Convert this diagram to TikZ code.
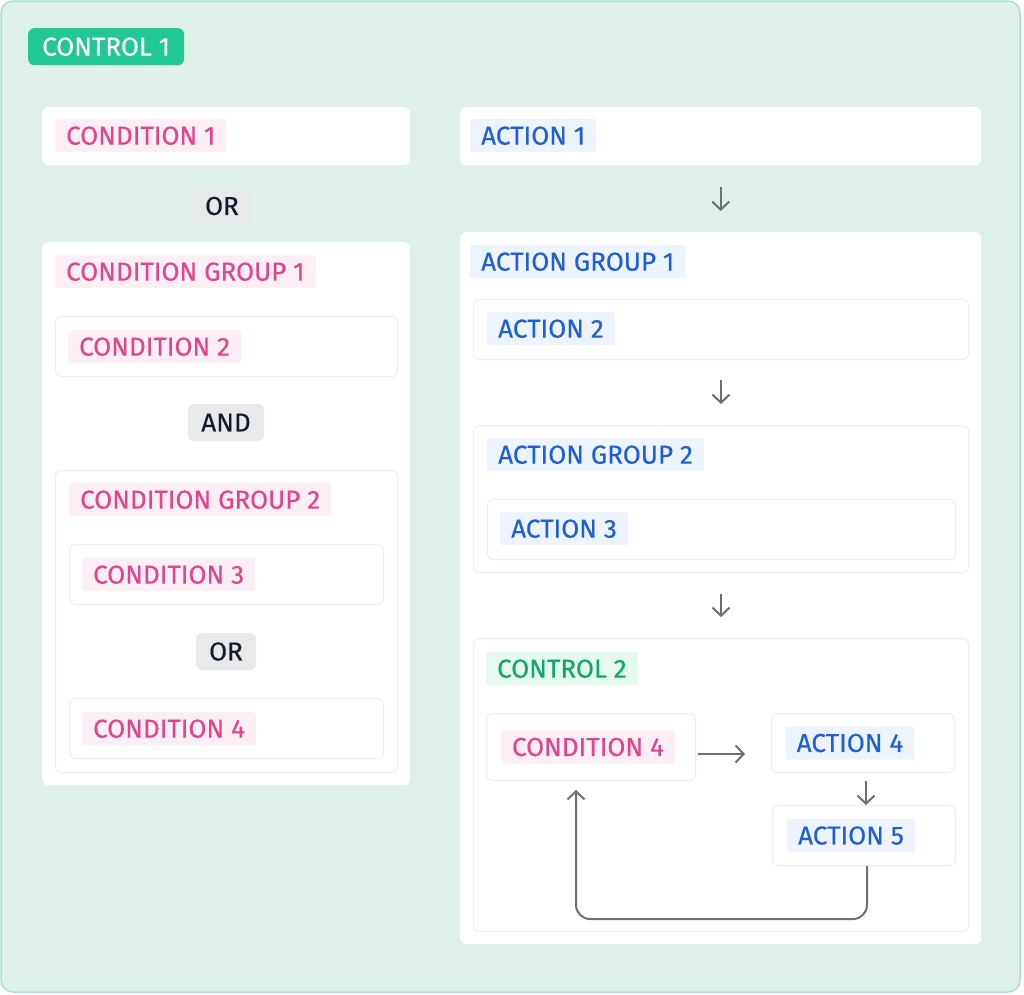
\documentclass[tikz,border=0pt]{standalone}
\usepackage{fontspec}
\setmainfont{Fira Sans}[FakeBold=0.35]
\usetikzlibrary{arrows.meta,positioning}
\definecolor{mintbg}{HTML}{DFF0E9}
\definecolor{mintline}{HTML}{A8E2CC}
\definecolor{ctlgreen}{HTML}{21C795}
\definecolor{pinktx}{HTML}{E2448C}
\definecolor{pinkbg}{HTML}{FDEFF5}
\definecolor{bluetx}{HTML}{1F5FD6}
\definecolor{bluebg}{HTML}{EDF4FD}
\definecolor{greentx}{HTML}{12A667}
\definecolor{greenbg}{HTML}{E6F9EF}
\definecolor{opbg}{HTML}{E8E9EB}
\definecolor{optx}{HTML}{161B2B}
\definecolor{cardline}{HTML}{ECEEF0}
\definecolor{arrgray}{HTML}{6C6F73}
\tikzset{
  panel/.style={fill=white, rounded corners=6pt, anchor=north west, inner sep=0pt},
  card/.style={panel, draw=cardline, line width=1pt},
  tagbox/.style={anchor=north west, inner xsep=11pt, inner ysep=0pt, minimum height=33pt,
    rounded corners=2pt, font=\fontsize{26}{26}\selectfont},
  condtag/.style={tagbox, fill=pinkbg, text=pinktx},
  acttag/.style={tagbox, fill=bluebg, text=bluetx},
  optag/.style={fill=opbg, text=optx, rounded corners=6pt, inner sep=0pt, font=\fontsize{26}{26}\selectfont},
  flow/.style={draw=arrgray, line width=2pt, -{Straight Barb[length=8pt,width=17pt]}}
}
\begin{document}
\begin{tikzpicture}[x=1pt,y=-1pt]
  \useasboundingbox (0,0) rectangle (1024,994);
  \draw[fill=mintbg, draw=mintline, line width=1.5pt, rounded corners=12pt] (1,1) rectangle (1020,992);
  \node[fill=ctlgreen, text=white, rounded corners=6pt, anchor=north west, inner xsep=14pt, inner ysep=0pt,
        minimum height=37pt, font=\fontsize{26}{26}\selectfont] (ctl1) at (28,28) {CONTROL 1};

  % conditions
  \node[panel, minimum width=368, minimum height=58] (c1) at (42,107) {};
  \node[condtag] (c1t) at ([shift={(13pt,-12pt)}]c1.north west) {CONDITION 1};
  \node[optag, minimum width=60, minimum height=36] (or1) at (222,206) {OR};
  \node[panel, minimum width=368, minimum height=543] (cg1) at (42,242) {};
  \node[condtag] (cg1t) at ([shift={(13pt,-13pt)}]cg1.north west) {CONDITION GROUP 1};
  \node[card, minimum width=342, minimum height=60] (c2) at (55,316) {};
  \node[condtag] (c2t) at ([shift={(13pt,-14pt)}]c2.north west) {CONDITION 2};
  \node[optag, minimum width=76, minimum height=37] (and) at (226,422.5) {AND};
  \node[card, minimum width=342, minimum height=302] (cg2) at (55,470) {};
  \node[condtag] (cg2t) at ([shift={(14pt,-13pt)}]cg2.north west) {CONDITION GROUP 2};
  \node[card, minimum width=314, minimum height=60] (c3) at (69,544) {};
  \node[condtag] (c3t) at ([shift={(13pt,-14pt)}]c3.north west) {CONDITION 3};
  \node[optag, minimum width=60, minimum height=37] (or2) at (226,651.5) {OR};
  \node[card, minimum width=314, minimum height=60] (c4) at (69,698) {};
  \node[condtag] (c4t) at ([shift={(13pt,-14pt)}]c4.north west) {CONDITION 4};

  % actions
  \node[panel, minimum width=521, minimum height=58] (a1) at (460,107) {};
  \node[acttag] (a1t) at ([shift={(10pt,-12pt)}]a1.north west) {ACTION 1};
  \node[panel, minimum width=521, minimum height=712] (ag1) at (460,232) {};
  \node[acttag] (ag1t) at ([shift={(10pt,-13pt)}]ag1.north west) {ACTION GROUP 1};
  \node[card, minimum width=495, minimum height=60] (a2) at (473,299) {};
  \node[acttag] (a2t) at ([shift={(14pt,-13pt)}]a2.north west) {ACTION 2};
  \node[card, minimum width=495, minimum height=147] (ag2) at (473,425) {};
  \node[acttag] (ag2t) at ([shift={(14pt,-13pt)}]ag2.north west) {ACTION GROUP 2};
  \node[card, minimum width=468, minimum height=60] (a3) at (487,499) {};
  \node[acttag] (a3t) at ([shift={(13pt,-13pt)}]a3.north west) {ACTION 3};
  \node[card, minimum width=495, minimum height=293] (ctl2) at (473,638) {};
  \node[tagbox, fill=greenbg, text=greentx] (ctl2t) at ([shift={(13pt,-14pt)}]ctl2.north west) {CONTROL 2};
  \node[card, minimum width=209, minimum height=67] (cd4) at (486,713) {};
  \node[condtag, anchor=center] (cd4t) at ([xshift=-3pt]cd4.center) {CONDITION 4};
  \node[card, minimum width=183, minimum height=59] (a4) at (771,713) {};
  \node[acttag, anchor=center] (a4t) at ([xshift=-13pt]a4.center) {ACTION 4};
  \node[card, minimum width=183, minimum height=60] (a5) at (772,805) {};
  \node[acttag, anchor=center] (a5t) at ([xshift=-13pt]a5.center) {ACTION 5};

  % arrows
  \draw[flow, shorten <=22pt, shorten >=21pt] (a1.south) -- (ag1.north);
  \draw[flow, shorten <=20pt, shorten >=21pt] (a2.south) -- (ag2.north);
  \draw[flow, shorten <=21pt, shorten >=21pt] (ag2.south) -- (ctl2.north);
  \draw[flow, shorten <=2pt, shorten >=26pt] ([yshift=-7pt]cd4.east) -- ([yshift=-7pt]cd4.east -| a4.west);
  \draw[flow, shorten <=8pt] ([xshift=3pt]a4.south) -- ([xshift=3pt]a4.south |- a5.north);
  \draw[flow, rounded corners=14pt, shorten >=9pt] ([xshift=3pt]a5.south) -- ++(0,53) -| ([xshift=-15pt]cd4.south);
\end{tikzpicture}
\end{document}
